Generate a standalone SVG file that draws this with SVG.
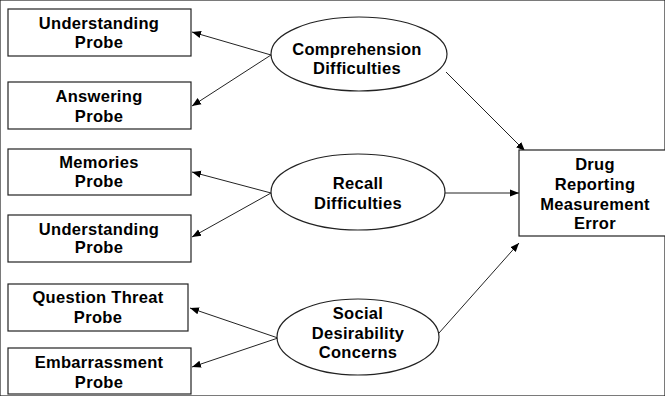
<svg xmlns="http://www.w3.org/2000/svg" width="665" height="396" viewBox="0 0 665 396">
<defs>
<marker id="ah" viewBox="0 0 10 10" refX="10" refY="5" markerWidth="9" markerHeight="9" markerUnits="userSpaceOnUse" orient="auto"><path d="M0,1 L10,5 L0,9 Z" fill="#000"/></marker>
</defs>
<style>
rect,ellipse{fill:#fff;stroke:#222;stroke-width:1.2}
text{font-family:"Liberation Sans",Arial,sans-serif;font-weight:bold;font-size:16.5px;text-anchor:middle;fill:#000;letter-spacing:0.3px}
.c line{stroke:#222;stroke-width:1;marker-end:url(#ah)}
</style>
<rect width="665" height="396" fill="#fff" stroke="none"/>
<g class="c" id="connectors">
<line x1="271" y1="55" x2="192" y2="32"/>
<line x1="271" y1="55" x2="192" y2="106"/>
<line x1="271" y1="193" x2="192" y2="172"/>
<line x1="271" y1="193" x2="192" y2="237"/>
<line x1="278" y1="338" x2="190" y2="308"/>
<line x1="278" y1="338" x2="192" y2="367"/>
<line x1="446" y1="72" x2="525" y2="151"/>
<line x1="445" y1="193" x2="519" y2="193"/>
<line x1="439" y1="333" x2="519" y2="243"/>
</g>
<g id="n1"><rect x="8" y="9" width="183" height="47"/><text x="99" y="29">Understanding</text><text x="99" y="48">Probe</text></g>
<g id="n2"><rect x="8" y="82" width="183" height="47"/><text x="99" y="102">Answering</text><text x="99" y="122">Probe</text></g>
<g id="n3"><rect x="8" y="149" width="183" height="46"/><text x="99" y="168">Memories</text><text x="99" y="187">Probe</text></g>
<g id="n4"><rect x="8" y="215" width="183" height="47"/><text x="99" y="235">Understanding</text><text x="99" y="253">Probe</text></g>
<g id="n5"><rect x="8" y="284" width="180" height="47"/><text x="98" y="303">Question Threat</text><text x="98" y="323">Probe</text></g>
<g id="n6"><rect x="8" y="348" width="183" height="46"/><text x="99" y="368">Embarrassment</text><text x="99" y="388">Probe</text></g>
<g id="e1"><ellipse cx="359" cy="54" rx="88" ry="37"/><text x="357" y="55">Comprehension</text><text x="357" y="74">Difficulties</text></g>
<g id="e2"><ellipse cx="358" cy="192" rx="87" ry="38"/><text x="358" y="189">Recall</text><text x="358" y="209">Difficulties</text></g>
<g id="e3"><ellipse cx="358" cy="337" rx="81" ry="38"/><text x="358" y="319">Social</text><text x="358" y="339">Desirability</text><text x="358" y="358">Concerns</text></g>
<g id="dv"><rect x="519" y="150" width="150" height="86"/><text x="595" y="170">Drug</text><text x="595" y="190">Reporting</text><text x="595" y="210">Measurement</text><text x="595" y="229">Error</text></g>
</svg>
